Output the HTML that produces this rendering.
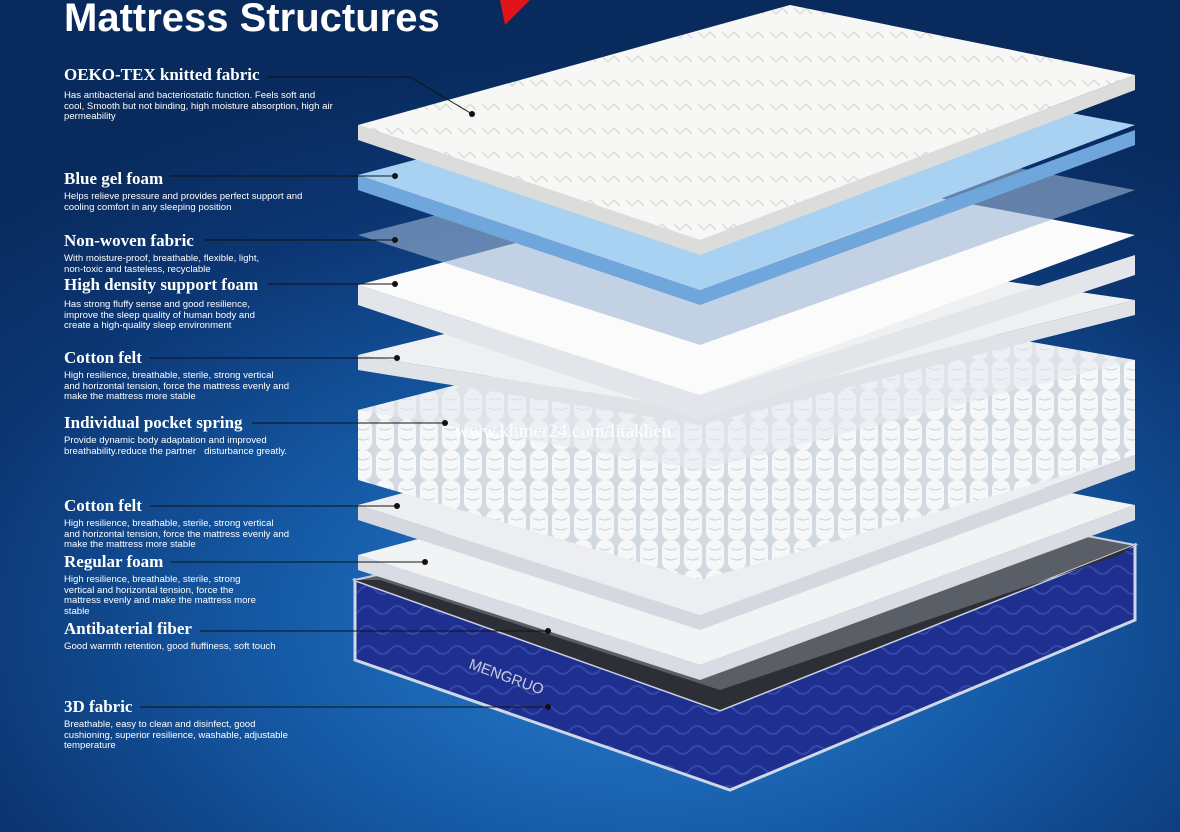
<!DOCTYPE html>
<html><head><meta charset="utf-8"><style>
html,body{margin:0;padding:0}
body{width:1180px;height:832px;overflow:hidden;position:relative;
background:radial-gradient(ellipse 80% 70% at 55% 75%,#2a7fd0 0%,#155aa6 40%,#0c3673 75%,#082a5c 100%);
font-family:"Liberation Sans",sans-serif;color:#fff}
.t{position:absolute;left:64px;top:-4px;font-size:40px;font-weight:bold}
.h{position:absolute;left:64px;font-family:"Liberation Serif",serif;font-weight:bold;font-size:17px;white-space:nowrap}
.d{position:absolute;left:64px;font-size:9.6px;line-height:10.6px;width:270px}
svg{position:absolute;left:0;top:0}
.wm{position:absolute;left:455px;top:421px;font-family:"Liberation Serif",serif;font-size:19px;color:rgba(255,255,255,.9)}
</style></head><body>
<svg width="1180" height="832">
<defs>
<pattern id="sp" width="22" height="30" patternUnits="userSpaceOnUse">
<rect width="22" height="30" fill="#d3d9e1"/><rect x="2" y="0" width="18" height="30" rx="8" fill="#f6f7f9"/>
<path d="M5 8 Q11 12 17 8 M5 18 Q11 22 17 18" stroke="#c8cfd8" fill="none"/></pattern>
<pattern id="wv" width="30" height="20" patternUnits="userSpaceOnUse">
<rect width="30" height="20" fill="#1f2f8f"/><path d="M0 10 Q7 2 15 10 T30 10" stroke="#3547a8" fill="none" stroke-width="2"/></pattern>
<pattern id="qt" width="24" height="24" patternUnits="userSpaceOnUse">
<rect width="24" height="24" fill="#f7f7f5"/><path d="M2 8 l6 6 l6 -6 l6 6" stroke="#dcdcd8" fill="none" stroke-width="1.5"/></pattern>
</defs>
<polygon points="500,0 530,0 505,25" fill="#e0141a"/>
<polygon points="355,580 720,710 1135,545 1135,620 730,790 355,660" fill="url(#wv)" stroke="#cfd8e8" stroke-width="3"/>
<polygon points="355,580 790,480 1135,545 720,710" fill="#5a5e66" stroke="#ccd" stroke-width="2"/>
<polygon points="355,580 720,710 1135,545 1120,555 720,690 380,580" fill="#2c2f36"/>
<polygon points="358,555 700,665 1135,505 1135,520 700,680 358,570" fill="#d9dde3"/>
<polygon points="358,555 790,440 1135,505 700,665" fill="#f2f3f5"/>
<polygon points="358,505 700,615 1135,455 1135,470 700,630 358,520" fill="#d5d9df"/>
<polygon points="358,505 790,390 1135,455 700,615" fill="#eceef1"/>
<polygon points="358,410 790,300 1135,360 1135,455 700,580 358,480" fill="url(#sp)"/>
<polygon points="358,410 790,300 1135,360 700,470" fill="#e6e9ee" opacity=".6"/>
<polygon points="358,355 700,410 1135,300 1135,315 700,425 358,370" fill="#dfe2e6"/>
<polygon points="358,355 790,250 1135,300 700,410" fill="#eef0f2"/>
<polygon points="358,285 700,395 1135,255 1135,275 700,420 358,305" fill="#e2e5e9"/>
<polygon points="358,285 790,170 1135,235 700,395" fill="#fbfbfc"/>
<polygon points="358,235 790,125 1135,190 700,345" fill="#9fb6d4" opacity=".6"/>
<polygon points="358,175 700,290 1135,130 1135,145 700,305 358,190" fill="#6fa7dd"/>
<polygon points="358,175 790,60 1135,125 700,290" fill="#a9d2f2"/>
<polygon points="358,125 700,240 1135,75 1135,90 700,255 358,140" fill="#dcdcda"/>
<polygon points="358,125 790,5 1135,75 700,240" fill="url(#qt)"/>
<text x="468" y="668" fill="#c8ccdc" font-size="15" font-family="Liberation Sans" transform="rotate(20 468 668)">MENGRUO</text>
<g stroke="#111" stroke-width="1" fill="none">
<polyline points="268,77 410,77 472,114"/>
<line x1="170" y1="176" x2="395" y2="176"/>
<line x1="204" y1="240" x2="395" y2="240"/>
<line x1="268" y1="284" x2="395" y2="284"/>
<line x1="150" y1="358" x2="397" y2="358"/>
<line x1="252" y1="423" x2="445" y2="423"/>
<line x1="150" y1="506" x2="397" y2="506"/>
<line x1="170" y1="562" x2="425" y2="562"/>
<line x1="200" y1="631" x2="548" y2="631"/>
<line x1="140" y1="707" x2="548" y2="707"/>
</g>
<g fill="#111">
<circle cx="472" cy="114" r="3"/><circle cx="395" cy="176" r="3"/><circle cx="395" cy="240" r="3"/>
<circle cx="395" cy="284" r="3"/><circle cx="397" cy="358" r="3"/><circle cx="445" cy="423" r="3"/>
<circle cx="397" cy="506" r="3"/><circle cx="425" cy="562" r="3"/><circle cx="548" cy="631" r="3"/><circle cx="548" cy="707" r="3"/>
</g>
</svg>
<div class="t">Mattress Structures</div>
<div class="h" style="top:65px">OEKO-TEX knitted fabric</div>
<div class="d" style="top:91px;width:270px">Has antibacterial and bacteriostatic function. Feels soft and cool, Smooth but not binding, high moisture absorption, high air permeability</div>
<div class="h" style="top:169px">Blue gel foam</div>
<div class="d" style="top:192px;width:258px">Helps relieve pressure and provides perfect support and cooling comfort in any sleeping position</div>
<div class="h" style="top:231px">Non-woven fabric</div>
<div class="d" style="top:254px;width:215px">With moisture-proof, breathable, flexible, light, non-toxic and tasteless, recyclable</div>
<div class="h" style="top:275px">High density support foam</div>
<div class="d" style="top:300px;width:210px">Has strong fluffy sense and good resilience, improve the sleep quality of human body and create a high-quality sleep environment</div>
<div class="h" style="top:348px">Cotton felt</div>
<div class="d" style="top:371px;width:228px">High resilience, breathable, sterile, strong vertical and horizontal tension, force the mattress evenly and make the mattress more stable</div>
<div class="h" style="top:413px">Individual pocket spring</div>
<div class="d" style="top:436px;width:250px">Provide dynamic body adaptation and improved breathability.reduce the partner &nbsp; disturbance greatly.</div>
<div class="h" style="top:496px">Cotton felt</div>
<div class="d" style="top:519px;width:228px">High resilience, breathable, sterile, strong vertical and horizontal tension, force the mattress evenly and make the mattress more stable</div>
<div class="h" style="top:552px">Regular foam</div>
<div class="d" style="top:575px;width:200px">High resilience, breathable, sterile, strong vertical and horizontal tension, force the mattress evenly and make the mattress more stable</div>
<div class="h" style="top:619px">Antibaterial fiber</div>
<div class="d" style="top:642px">Good warmth retention, good fluffiness, soft touch</div>
<div class="h" style="top:697px">3D fabric</div>
<div class="d" style="top:720px;width:240px">Breathable, easy to clean and disinfect, good cushioning, superior resilience, washable, adjustable temperature</div>
<div class="wm">www.khmer24.com/litakhen</div>
</body></html>
